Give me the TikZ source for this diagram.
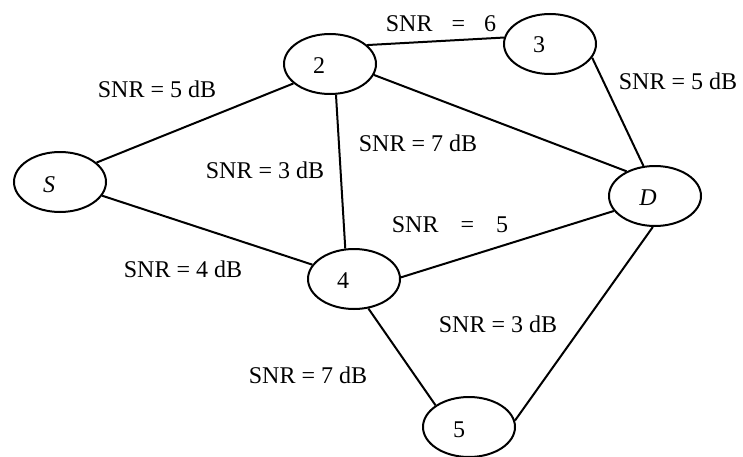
\documentclass[tikz,border=0pt]{standalone}
\usepackage{fontspec}
\setmainfont{Liberation Serif}
\usetikzlibrary{shapes.geometric}
\tikzset{
  relay/.style={ellipse, draw, line width=2pt, minimum width=92pt, minimum height=60pt, inner sep=0pt},
  link/.style={line width=2pt},
  snr/.style={anchor=base, font=\fontsize{24}{28}\selectfont, inner sep=0pt},
  tag/.style={anchor=base, font=\fontsize{24}{28}\selectfont, inner sep=0pt}
}
\begin{document}
\begin{tikzpicture}[x=1pt,y=1pt]
\clip (0,0) rectangle (743,456);

% relay nodes
\node[relay] (S)  at (60,274)  {};
\node[relay] (n2) at (330,392) {};
\node[relay] (n3) at (550,412) {};
\node[relay] (D)  at (655,260) {};
\node[relay] (n4) at (354,177) {};
\node[relay] (n5) at (469,29)  {};

% node names
\node[tag] (tS) at (49,264)  {\textit{S}};
\node[tag] (t2) at (319,382) {2};
\node[tag] (t3) at (539,403) {3};
\node[tag] (tD) at (648,251) {\textit{D}};
\node[tag] (t4) at (343,168) {4};
\node[tag] (t5) at (459,19)  {5};

% links
\draw[link] (S.28.4)   -- (n2.208.6);
\draw[link] (n2.27.3)  -- (n3.172.7);
\draw[link] (n2.-14.6) -- (D.139.4);
\draw[link] (n2.-79)   -- (n4.106.2);
\draw[link] (n3.-18.4) -- (D.111.2);
\draw[link] (S.-18.4)  -- (n4.161.6);
\draw[link] (n4.2.4)   -- (D.200.3);
\draw[link] (n4.-64.2) -- (n5.147.1);
\draw[link] (D.266.6)  -- (n5.8.5);

% link qualities
\node[snr] (l1) at (157,358) {SNR = 5 dB};
\node[snr] (l2) at (441,424) {SNR\hspace{13pt} = \hspace{13pt}6};
\node[snr] (l3) at (678,366) {SNR = 5 dB};
\node[snr] (l4) at (418,305) {SNR = 7 dB};
\node[snr] (l5) at (265,278) {SNR = 3 dB};
\node[snr] (l6) at (450,224) {SNR\hspace{16pt} = \hspace{16pt}5};
\node[snr] (l7) at (183,179) {SNR = 4 dB};
\node[snr] (l8) at (498,124) {SNR = 3 dB};
\node[snr] (l9) at (308,73)  {SNR = 7 dB};
\end{tikzpicture}
\end{document}
